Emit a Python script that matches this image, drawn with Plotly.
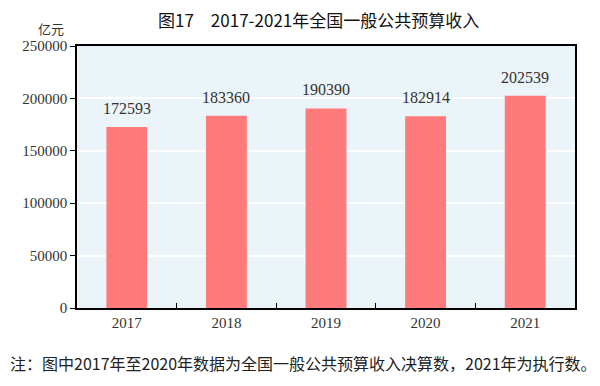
import plotly.graph_objects as go

years = ["2017", "2018", "2019", "2020", "2021"]
revenue = [172593, 183360, 190390, 182914, 202539]
y_ticks = [0, 50000, 100000, 150000, 200000, 250000]

title_text = "图17　2017-2021年全国一般公共预算收入"
unit_text = "亿元"
note_text = "注：图中2017年至2020年数据为全国一般公共预算收入决算数，2021年为执行数。"

serif = "Liberation Serif, Times New Roman, serif"
sans = "Noto Sans CJK SC, sans-serif"

# page has an 8px body margin; figure is sized so it fills the 600x386 window
OFF = 8
W, H = 600 - OFF, 386 - OFF
ML, MR, MT, MB = 77 - OFF, 25, 46 - OFF, 78
pw, ph = W - ML - MR, H - MT - MB
def px(x): return (x - OFF - ML) / pw
def py(y): return (H - MB - (y - OFF)) / ph

fig = go.Figure()
fig.add_trace(go.Bar(
    x=years, y=revenue,
    marker=dict(color="#FF7A7A", line=dict(width=0)),
    width=0.41,
))

annotations = [
    dict(text=title_text, x=px(318), y=py(20), xanchor="center", yanchor="middle",
         font=dict(family=sans, size=17, color="#111111")),
    dict(text=unit_text, x=px(51), y=py(28), xanchor="center", yanchor="middle",
         font=dict(family=sans, size=13, color="#333333")),
    dict(text=note_text, x=px(8), y=py(363), xanchor="left", yanchor="middle",
         font=dict(family=sans, size=16, color="#222222")),
]
for a in annotations:
    a.update(xref="paper", yref="paper", showarrow=False)

# value labels above bars (x given as category index of each year)
for i, v in enumerate(revenue):
    annotations.append(dict(
        x=i, y=v, xref="x", yref="y", text=str(v), showarrow=False,
        yanchor="bottom", yshift=8,
        font=dict(family=serif, size=16, color="#333333"),
    ))

fig.update_layout(
    width=W, height=H,
    margin=dict(l=ML, r=MR, t=MT, b=MB),
    paper_bgcolor="white",
    plot_bgcolor="#EBF4F8",
    showlegend=False,
    annotations=annotations,
)

fig.update_xaxes(
    type="category", categoryorder="array", categoryarray=years,
    showline=True, linecolor="black", linewidth=1.5, mirror=True,
    ticks="inside", tickson="boundaries", ticklen=5, tickcolor="black",
    tickfont=dict(family=serif, size=15, color="#333333"),
    showgrid=False,
)
fig.update_yaxes(
    range=[0, 250000], tickvals=y_ticks, ticktext=[str(v) for v in y_ticks],
    showline=True, linecolor="black", linewidth=1.5, mirror=True,
    ticks="outside", ticklen=5, tickcolor="black",
    tickfont=dict(family=serif, size=15, color="#333333"),
    showgrid=True, gridcolor="white", gridwidth=1.5,
    zeroline=False,
)

fig.write_html("out.html", config={"displayModeBar": False})
